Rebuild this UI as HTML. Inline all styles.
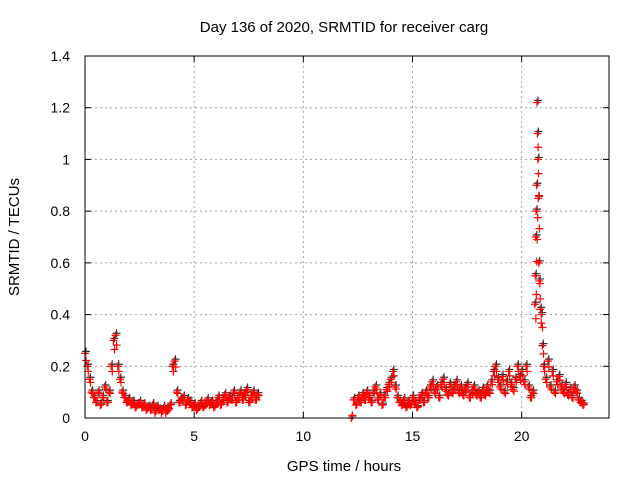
<!DOCTYPE html>
<html><head><meta charset="utf-8"><style>
body{margin:0;background:#fff}
svg text{font-family:"Liberation Sans",sans-serif;font-size:14px;fill:#000}
svg text.big{font-size:15px}
</style></head><body>
<svg id="chart" width="640" height="480" viewBox="0 0 640 480">
<rect width="640" height="480" fill="#fff"/>
<text class="big" x="344" y="32" text-anchor="middle">Day 136 of 2020, SRMTID for receiver carg</text>
<text class="big" transform="translate(19,237) rotate(-90)" text-anchor="middle">SRMTID / TECUs</text>
<text class="big" x="344" y="471" text-anchor="middle">GPS time / hours</text>
<g id="grid"></g><g id="ticks"></g><g id="marks"></g>
<rect x="85" y="56" width="524" height="362" fill="none" stroke="#000" stroke-width="1"/>
</svg>
<script>
const xTicks=[0,5,10,15,20];
const yTicks=[0,0.2,0.4,0.6,0.8,1,1.2,1.4];
const yTickLabels=["0","0.2","0.4","0.6","0.8","1","1.2","1.4"];
const seg1Start=0.0;
const seg1Values=[0.25,0.2,0.15,0.1,0.08,0.06,0.1,0.05,0.08,0.12,0.06,0.1,0.2,0.3,0.32,0.2,0.15,0.1,0.08,0.06,
0.07,0.05,0.06,0.04,0.05,0.06,0.04,0.05,0.03,0.04,0.03,0.05,0.02,0.04,0.03,0.02,0.04,0.02,0.03,0.05,
0.2,0.22,0.1,0.06,0.07,0.08,0.05,0.07,0.06,0.04,0.05,0.03,0.04,0.06,0.04,0.05,0.07,0.05,0.06,0.04,
0.06,0.08,0.05,0.07,0.09,0.06,0.08,0.07,0.1,0.06,0.08,0.1,0.07,0.09,0.11,0.06,0.08,0.1,0.07,0.09];
const isolatedTime=[12.2];
const isolatedValue=[0];
const seg2Start=12.3;
const seg2Values=[0.07,0.05,0.08,0.06,0.09,0.07,0.1,0.08,0.06,0.1,0.12,0.07,0.09,0.05,0.08,0.11,0.13,
0.15,0.18,0.12,0.08,0.06,0.05,0.07,0.04,0.06,0.05,0.08,0.06,0.04,0.07,0.09,0.06,0.1,0.08,0.12,0.14,
0.1,0.12,0.08,0.13,0.15,0.11,0.09,0.13,0.1,0.12,0.14,0.1,0.12,0.09,0.11,0.13,0.08,0.1,0.12,0.09,
0.1,0.08,0.11,0.09,0.12,0.1,0.14,0.18,0.2,0.15,0.12,0.16,0.1,0.14,0.18,0.13,0.11,0.15,0.2,0.16,
0.18,0.14,0.2,0.12,0.08,0.1];
const peakTimes=[20.6,20.62,20.64,20.66,20.68,20.7,20.72,20.74,20.76,20.78,20.8,20.85,20.9,20.95];
const peakValues=[0.44,0.55,0.7,0.8,0.9,1.22,1.1,1.0,0.85,0.6,0.53,0.42,0.4,0.28];
const seg3Start=21.0;
const seg3Values=[0.2,0.15,0.22,0.12,0.18,0.1,0.14,0.16,0.12,0.1,0.13,0.09,0.11,0.08,0.12,0.1,0.07,0.06,0.05];
const step=0.1;

const NS="http://www.w3.org/2000/svg";
const X=h=>85+h*(524/24);
const Y=v=>418-v*(362/1.4);
const grid=document.getElementById('grid'),ticks=document.getElementById('ticks'),marks=document.getElementById('marks');
function mk(tag,attrs,parent){const e=document.createElementNS(NS,tag);for(const k in attrs)e.setAttribute(k,attrs[k]);parent.appendChild(e);return e;}
xTicks.forEach(t=>{
  const x=X(t);
  if(t>0){const g=mk('line',{x1:x,x2:x,y1:56,y2:418,stroke:'#a0a0a0','stroke-dasharray':'2,3'},grid);
  
  }
  mk('line',{x1:x,x2:x,y1:418,y2:412,stroke:'#000'},ticks);
  mk('line',{x1:x,x2:x,y1:56,y2:62,stroke:'#000'},ticks);
  const l=mk('text',{x:x,y:441,'text-anchor':'middle'},ticks);l.textContent=t;
  
  
});
yTicks.forEach((t,i)=>{
  const y=Y(t);
  if(t>0&&t<1.4){const g=mk('line',{x1:85,x2:609,y1:y,y2:y,stroke:'#a0a0a0','stroke-dasharray':'2,3'},grid);
  
  }
  mk('line',{x1:85,x2:91,y1:y,y2:y,stroke:'#000'},ticks);
  mk('line',{x1:609,x2:603,y1:y,y2:y,stroke:'#000'},ticks);
  const l=mk('text',{x:70,y:y+5,'text-anchor':'end'},ticks);l.textContent=yTickLabels[i];
  
  
});
const pts=[];
seg1Values.forEach((v,i)=>pts.push([seg1Start+i*step,v]));
isolatedTime.forEach((t,i)=>pts.push([t,isolatedValue[i]]));
seg2Values.forEach((v,i)=>pts.push([seg2Start+i*step,v]));
peakTimes.forEach((t,i)=>pts.push([t,peakValues[i]]));
seg3Values.forEach((v,i)=>pts.push([seg3Start+i*step,v]));
function plus(x,y,col){const p=mk('path',{d:`M${x-4},${y}h8M${x},${y-4}v8`,stroke:col,'stroke-width':1.2,fill:'none'},marks);return p;}
pts.forEach(([t,v])=>{const p=plus(X(t)+1,Y(v)-2,'#333');
  
  });
pts.forEach(([t,v])=>{const p=plus(X(t),Y(v),'#ff0000');
  
  
  const q=plus(X(t)+1.1,Y(v*0.85+0.01),'#ff0000');
  
  });
</script>
</body></html>
